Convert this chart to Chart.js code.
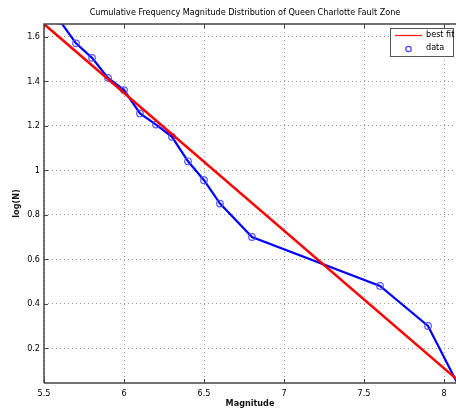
<!DOCTYPE html>
<html>
<head>
<meta charset="utf-8">
<script src="https://cdn.jsdelivr.net/npm/chart.js@4/dist/chart.umd.min.js"></script>
<style>
  body { margin: 0; background: #fff; overflow: hidden; }
  #wrap { width: 456px; height: 410px; }
  canvas { display: block; }
</style>
</head>
<body>
<div id="wrap"><canvas id="gr" width="456" height="410"></canvas></div>
<script>
// values
const magnitude = [5.6, 5.7, 5.8, 5.9, 6.0, 6.1, 6.2, 6.3, 6.4, 6.5, 6.6, 6.8, 7.6, 7.9, 8.1];
const logN = [1.67, 1.57, 1.505, 1.415, 1.36, 1.255, 1.205, 1.15, 1.04, 0.955, 0.85, 0.70, 0.48, 0.30, 0.02];
const fitMag = [5.5, 8.1];
const fitLogN = [1.657, 0.048];
const xTicks = [5.5, 6, 6.5, 7, 7.5, 8];
const yTicks = [0.2, 0.4, 0.6, 0.8, 1, 1.2, 1.4, 1.6];

const titleText = 'Cumulative Frequency Magnitude Distribution of Queen Charlotte Fault Zone';
const FONT = "'DejaVu Sans Condensed', 'Liberation Sans Narrow', sans-serif";

const toPts = (xs, ys) => xs.map((x, i) => ({ x: x, y: ys[i] }));

// frame, inward ticks, title and legend drawn like the matlab figure
const matlabBits = {
    id: 'matlabBits',
    afterDatasetsDraw(chart) {
        const { ctx, chartArea: a, scales: { x, y } } = chart;
        ctx.save();
        ctx.strokeStyle = '#444';
        ctx.lineWidth = 1.5;
        ctx.beginPath();
        ctx.moveTo(a.left, a.bottom); ctx.lineTo(a.left, a.top); ctx.lineTo(a.right, a.top);
        ctx.moveTo(a.left, a.bottom); ctx.lineTo(a.right, a.bottom);
        ctx.stroke();
        ctx.lineWidth = 1;
        ctx.beginPath();
        xTicks.forEach(v => {
            const px = Math.round(x.getPixelForValue(v)) + 0.5;
            ctx.moveTo(px, a.bottom); ctx.lineTo(px, a.bottom - 4);
            ctx.moveTo(px, a.top); ctx.lineTo(px, a.top + 4);
        });
        yTicks.forEach(v => {
            const py = Math.round(y.getPixelForValue(v)) + 0.5;
            ctx.moveTo(a.left, py); ctx.lineTo(a.left + 4, py);
        });
        ctx.stroke();
        ctx.restore();
    },
    afterDraw(chart) {
        const { ctx } = chart;
        ctx.save();
        ctx.setLineDash([]);
        ctx.fillStyle = '#000';
        ctx.font = '9px ' + FONT;
        ctx.textAlign = 'center';
        ctx.textBaseline = 'middle';
        ctx.fillText(titleText, 245, 13);

        // legend
        ctx.fillStyle = '#fff';
        ctx.fillRect(390, 28, 63, 28);
        ctx.strokeStyle = '#555';
        ctx.lineWidth = 1;
        ctx.strokeRect(390.5, 28.5, 63, 28);
        ctx.strokeStyle = '#ff2020';
        ctx.lineWidth = 1.3;
        ctx.beginPath(); ctx.moveTo(395, 35.5); ctx.lineTo(422, 35.5); ctx.stroke();
        ctx.strokeStyle = '#4444ff';
        ctx.lineWidth = 1.2;
        ctx.beginPath(); ctx.arc(408.5, 49, 2.7, 0, Math.PI * 2); ctx.stroke();
        ctx.fillStyle = '#000';
        ctx.textAlign = 'left';
        ctx.font = '9px ' + FONT;
        ctx.fillText('best fit', 426, 35);
        ctx.fillText('data', 426, 48);
        ctx.restore();
    }
};

new Chart(document.getElementById('gr').getContext('2d'), {
    type: 'line',
    data: { datasets: [{
        label: 'best fit', data: toPts(fitMag, fitLogN), borderColor: '#ff0000',
        borderWidth: 2.5, pointRadius: 0, fill: false
    }, {
        label: 'data', data: toPts(magnitude, logN), borderColor: '#0000ff', borderWidth: 2.2,
        pointRadius: 3.3, pointBorderWidth: 1.2, pointBorderColor: 'rgba(70,70,255,0.9)',
        pointBackgroundColor: 'rgba(0,0,0,0)', fill: false, tension: 0
    }]},
    options: {
        responsive: false, animation: false,
        layout: { autoPadding: false, padding: { top: 24, left: 0, right: 0, bottom: 0 } },
        plugins: { legend: { display: false }, title: { display: false }, tooltip: { enabled: false } },
        scales: {
            x: {
                type: 'linear', min: 5.5, max: 8.075,
                afterFit: s => { s.height = 27; s.paddingLeft = 0; s.paddingRight = 0; },
                afterBuildTicks: s => { s.ticks = xTicks.map(v => ({ value: v })); },
                ticks: { autoSkip: false, maxRotation: 0, padding: 5, color: '#000',
                    font: { family: FONT, size: 9 }, callback: v => String(v) },
                grid: { color: '#9a9a9a', lineWidth: 1, drawTicks: false },
                border: { display: false, dash: [1, 3] },
                title: { display: true, text: 'Magnitude', color: '#111',
                    font: { family: FONT, size: 9, weight: 'bold' }, padding: { top: 0, bottom: 1 } }
            },
            y: {
                type: 'linear', min: 0.044, max: 1.657,
                afterFit: s => { s.width = 44; s.paddingTop = 0; s.paddingBottom = 0; },
                afterBuildTicks: s => { s.ticks = yTicks.map(v => ({ value: v })); },
                ticks: { autoSkip: false, padding: 4, color: '#000',
                    font: { family: FONT, size: 9 }, callback: v => String(Math.round(v * 10) / 10) },
                grid: { color: '#9a9a9a', lineWidth: 1, drawTicks: false },
                border: { display: false, dash: [1, 3] },
                title: { display: true, text: 'log(N)', color: '#111',
                    font: { family: FONT, size: 9, weight: 'bold' }, padding: { top: 11, bottom: 0 } }
            }
        }
    },
    plugins: [matlabBits]
});
</script>
</body>
</html>
